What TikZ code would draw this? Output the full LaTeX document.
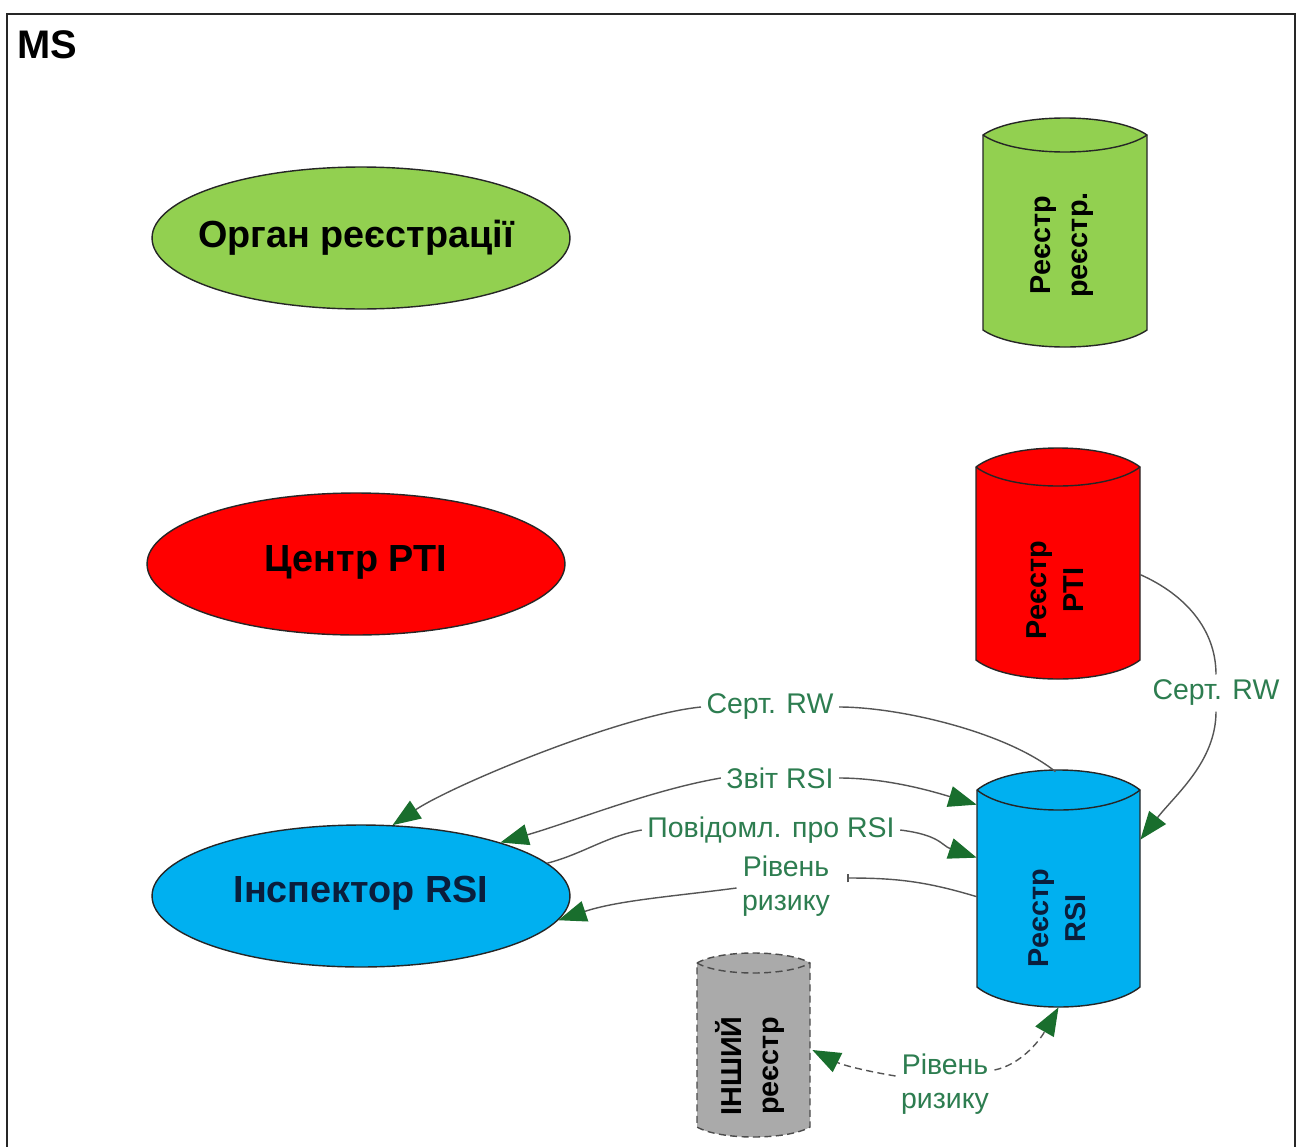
\documentclass[tikz,border=0pt]{standalone}
\usepackage{fontspec}
\setmainfont{Liberation Sans}
\usetikzlibrary{arrows.meta,shapes.geometric,fit,calc}
\definecolor{gfill}{RGB}{146,208,80}
\definecolor{rfill}{RGB}{255,0,0}
\definecolor{bfill}{RGB}{0,176,240}
\definecolor{grfill}{RGB}{170,170,170}
\definecolor{arrgreen}{RGB}{25,110,45}
\definecolor{labgreen}{RGB}{45,125,80}
\definecolor{linegray}{RGB}{85,85,85}
\definecolor{navyt}{RGB}{10,30,60}
\newcommand\mycyl[6]{%
  \pgfmathsetmacro\mycw{0.2*(#3-#2)}%
  \pgfmathsetmacro\mycd{#6/0.75}%
  \path[#1] (#2,#4) .. controls ({#2+\mycw},{#4-\mycd}) and ({#3-\mycw},{#4-\mycd}) .. (#3,#4)
     -- (#3,#5) .. controls ({#3-\mycw},{#5+\mycd}) and ({#2+\mycw},{#5+\mycd}) .. (#2,#5) -- cycle;
  \path[#1,fill=none] (#2,#4) .. controls ({#2+\mycw},{#4+\mycd}) and ({#3-\mycw},{#4+\mycd}) .. (#3,#4);
}
\begin{document}
\begin{tikzpicture}[x=0.02cm,y=-0.02cm,
  ell/.style={ellipse, draw=black!85, line width=0.8pt, minimum width=8.36cm, minimum height=2.84cm, inner sep=0pt},
  elltxt/.style={inner sep=0pt, font=\fontsize{21.5}{25}\selectfont\bfseries},
  cyltxt/.style={rotate=90, align=center, inner sep=0pt, font=\fontsize{16.4}{21}\selectfont\bfseries},
  body/.style={inner sep=0pt, draw=none},
  lab/.style={text=labgreen, align=center, inner sep=3pt, font=\fontsize{16.2}{19.3}\selectfont},
  conn/.style={draw=linegray, line width=0.8pt},
  tip/.style={-{Triangle[length=16pt,width=12pt,fill=arrgreen,color=arrgreen]}},
  dsh/.style={dash pattern=on 4pt off 2.5pt},
  cylline/.style={draw=black!85, line width=0.8pt}
]
\useasboundingbox (0,0) rectangle (1298,1146);
\fill[white] (0,0) rectangle (1298,1146);
\draw[line width=1.6pt, black!85] (7,1160) -- (7,14) -- (1295,14) -- (1295,1160);
\node[anchor=base west, inner sep=0pt, font=\fontsize{22.7}{26}\selectfont\bfseries] (ms) at (17,58) {MS};

% ellipses
\node[ell, fill=gfill] (organ) at (361,238) {};
\node[elltxt] (organt) at (356,238) {Орган реєстрації};
\node[ell, fill=rfill] (centr) at (356,564) {};
\node[elltxt] (centrt) at (356,562) {Центр РТІ};
\node[ell, fill=bfill] (insp) at (361,896) {};
\node[elltxt, text=navyt] (inspt) at (361,893) {Інспектор RSI};

% cylinders
\mycyl{cylline,fill=gfill}{983}{1147}{135}{330}{17}
\node[body, fit={(983,135)(1147,330)}] (reg) {};
\node[cyltxt] (regt) at (1062,245) {Реєстр\\реєстр.};

\mycyl{cylline,fill=rfill}{976}{1140}{467}{660}{19}
\node[body, fit={(976,467)(1140,660)}] (pti) {};
\node[cyltxt] (ptit) at (1055,590) {Реєстр\\РТІ};

\mycyl{cylline,fill=bfill}{977}{1140}{790}{987}{20}
\node[body, fit={(977,790)(1140,987)}] (rsi) {};
\node[cyltxt, text=navyt] (rsit) at (1057,918) {Реєстр\\RSI};

\mycyl{cylline,draw=black!70,dsh,fill=grfill}{697}{810}{963}{1127}{10}
\node[body, fit={(697,963)(810,1127)}] (oth) {};
\node[cyltxt] (otht) at (750,1066) {ІНШИЙ\\реєстр};

% labels
\node[lab] (lR) at (1216,693) {Серт. RW};
\node[lab] (lM) at (770,707) {Серт. RW};
\node[lab] (lZ) at (780,778) {Звіт RSI};
\node[lab] (lP) at (771,830) {Повідомл. про RSI};
\node[lab] (lE) at (786,886) {Рівень\\ризику};
\node[lab] (lF) at (945,1084) {Рівень\\ризику};

% connectors
\draw[conn] ($(pti.north east)+(0,108)$) .. controls +(45,20) and +(0,-45) .. (lR.north);
\draw[conn,tip] (lR.south) .. controls +(0,50) and +(35,-45) .. ($(rsi.north east)+(0,50)$);

\draw[conn] ($(rsi.north)+(-3,-18)$) .. controls +(-50,-40) and +(60,0) .. (lM.east);
\draw[conn,tip] (lM.west) .. controls +(-80,8) and +(60,-40) .. (insp.66);

\draw[conn,tip] (lZ.west) .. controls +(-70,12) and +(70,-20) .. (insp.21);
\draw[conn,tip] (lZ.east) .. controls +(50,0) and +(-40,-12) .. ($(rsi.north west)+(0,15)$);

\draw[conn] (insp.10) .. controls +(35,-9) and +(-35,6) .. (lP.west);
\draw[conn,tip] (lP.east) .. controls +(40,5) and +(-35,-12) .. ($(rsi.north west)+(0,68)$);

\draw[conn,-{Bar[width=5pt]}] ($(rsi.north west)+(0,107)$) .. controls +(-50,-15) and +(50,0) .. ($(lE.east)+(12,-8)$);
\draw[conn,tip] ($(lE.west)+(0,2)$) .. controls +(-60,8) and +(60,-20) .. (insp.-7);

\draw[conn,dsh,tip] ($(lF.east)+(0,-14)$) .. controls +(25,-5) and +(-20,35) .. ($(rsi.south)+(0,20)$);
\draw[conn,dsh,tip] ($(lF.west)+(0,-8)$) .. controls +(-30,-5) and +(30,15) .. ($(oth.east)+(2,5)$);
\end{tikzpicture}
\end{document}
